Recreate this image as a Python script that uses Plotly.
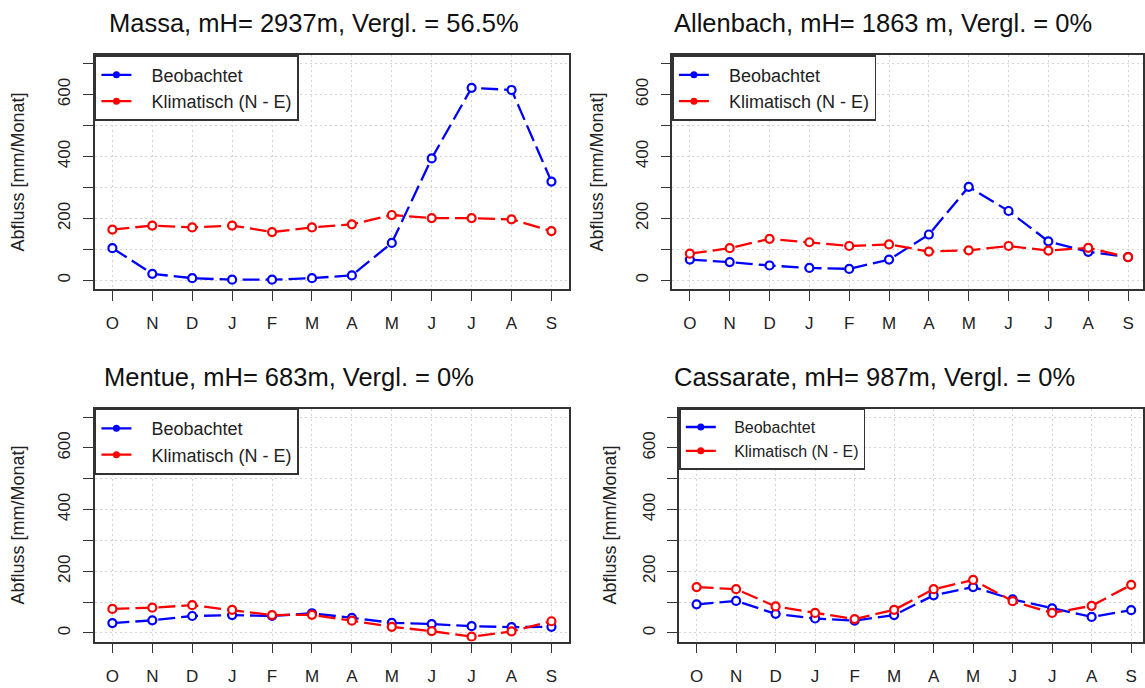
import plotly.graph_objects as go

# ---------------- data ----------------
months = ["O", "N", "D", "J", "F", "M", "A", "M", "J", "J", "A", "S"]

titles = [
    "Massa, mH= 2937m, Vergl. = 56.5%",
    "Allenbach, mH= 1863 m, Vergl. = 0%",
    "Mentue, mH= 683m, Vergl. = 0%",
    "Cassarate, mH= 987m, Vergl. = 0%",
]

series_names = ["Beobachtet", "Klimatisch (N - E)"]

massa_beob = [104, 21, 7, 2, 2, 7, 16, 121, 394, 622, 615, 319]
massa_klim = [164, 177, 171, 177, 156, 171, 181, 211, 201, 201, 197, 159]

allenbach_beob = [67, 59, 48, 40, 37, 67, 148, 302, 224, 126, 92, 75]
allenbach_klim = [86, 104, 134, 123, 111, 116, 93, 97, 111, 96, 105, 75]

mentue_beob = [32, 41, 55, 58, 55, 64, 49, 33, 29, 22, 19, 20]
mentue_klim = [78, 82, 90, 75, 58, 59, 40, 20, 6, -12, 5, 38]

cassarate_beob = [93, 104, 62, 47, 40, 58, 122, 149, 109, 80, 52, 74]
cassarate_klim = [149, 142, 86, 65, 45, 75, 142, 172, 103, 65, 88, 156]

y_tickvals = [0, 100, 200, 300, 400, 500, 600, 700]
y_ticktext = ["0", "", "200", "", "400", "", "600", ""]
y_axis_title = "Abfluss [mm/Monat]"

panel_data = [
    (massa_beob, massa_klim),
    (allenbach_beob, allenbach_klim),
    (mentue_beob, mentue_klim),
    (cassarate_beob, cassarate_klim),
]

# ---------------- layout geometry ----------------
W, H = 1145, 688
x_idx = list(range(1, len(months) + 1))

# pixel boxes (left, right, top, bottom), x-range right end, legend font, title standoff
panels = [
    dict(l=95, r=570, t=55, b=289, xr=12.44, lf=18, so=26),
    dict(l=673.5, r=1145, t=55, b=289, xr=12.375, lf=18, so=24),
    dict(l=95, r=570, t=408.5, b=641.6, xr=12.44, lf=18, so=26),
    dict(l=680.4, r=1145, t=408.5, b=641.6, xr=12.30, lf=16, so=18),
]
title_pos = [(315, 23), (885, 23), (290, 377), (876, 377)]

colors = ["#0000ff", "#ff0000"]
FONT = "Liberation Sans, Arial, sans-serif"
AXC = "#333333"
TXT = "#222222"

fig = go.Figure()

layout = dict(
    width=W, height=H,
    margin=dict(l=0, r=0, t=0, b=0),
    paper_bgcolor="white", plot_bgcolor="white",
    font=dict(family=FONT, color=TXT),
    annotations=[],
)

for i, (p, data) in enumerate(zip(panels, panel_data)):
    k = "" if i == 0 else str(i + 1)
    xa, ya = "x" + k, "y" + k
    leg = "legend" + k
    for s, (vals, col) in enumerate(zip(data, colors)):
        fig.add_trace(go.Scatter(
            x=x_idx, y=vals, xaxis=xa, yaxis=ya, mode="lines+markers",
            line=dict(color=col, width=2.3, dash="17px,6px"),
            marker=dict(symbol="circle", size=8, color="white",
                        line=dict(color=col, width=2.2)),
            showlegend=False, name=series_names[s], hoverinfo="x+y",
        ))
    for s, col in enumerate(colors):
        fig.add_trace(go.Scatter(
            x=[None], y=[None], xaxis=xa, yaxis=ya, mode="lines+markers",
            line=dict(color=col, width=2.3),
            marker=dict(symbol="circle", size=7, color=col),
            name="\u00a0\u00a0\u00a0" + series_names[s], legend=leg, showlegend=True,
        ))

    x0, x1 = p["l"] / W, p["r"] / W
    y0, y1 = 1 - p["b"] / H, 1 - p["t"] / H
    grid = dict(showgrid=True, gridcolor="#d4d4d4", griddash="2px,3px", gridwidth=1)
    layout["xaxis" + k] = dict(
        domain=[x0, x1], range=[0.56, p["xr"]], anchor=ya,
        tickvals=x_idx, ticktext=months, tickangle=0,
        ticks="outside", ticklen=10, tickwidth=1.3, tickcolor=AXC,
        showline=True, mirror=True, linecolor=AXC, linewidth=1.6,
        zeroline=False, tickfont=dict(size=17, color=TXT),
        ticklabelstandoff=8, **grid,
    )
    layout["yaxis" + k] = dict(
        domain=[y0, y1], range=[-28, 728], anchor=xa,
        tickvals=y_tickvals, ticktext=y_ticktext, tickangle=-90,
        ticks="outside", ticklen=10, tickwidth=1.3, tickcolor=AXC,
        showline=True, mirror=True, linecolor=AXC, linewidth=1.6,
        zeroline=False, tickfont=dict(size=17, color=TXT),
        ticklabelstandoff=6, **grid,
        title=dict(text=y_axis_title, font=dict(size=18, color=TXT), standoff=p["so"]),
    )
    layout[leg] = dict(
        x=x0, y=y1, xanchor="left", yanchor="top", xref="paper", yref="paper",
        bgcolor="white", bordercolor=AXC, borderwidth=1.6,
        font=dict(size=p["lf"], color=TXT), tracegroupgap=2,
        itemwidth=30,
    )
    tx, ty = title_pos[i]
    layout["annotations"].append(dict(
        text=titles[i], x=tx / W, y=1 - ty / H, xref="paper", yref="paper",
        xanchor="center", yanchor="middle", showarrow=False,
        font=dict(size=25.5, family=FONT, color="#111111"),
    ))

fig.update_layout(**layout)
fig.write_html("out.html")
